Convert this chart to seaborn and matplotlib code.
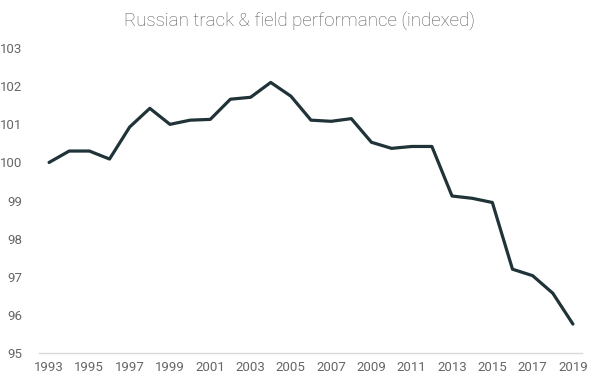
import matplotlib
matplotlib.use("Agg")
import matplotlib.pyplot as plt
import seaborn as sns
import pandas as pd

# Values
years = list(range(1993, 2020))
index_values = [
    100.00, 100.30, 100.30, 100.09, 100.93, 101.42, 101.00, 101.11, 101.13,
    101.66, 101.71, 102.10, 101.74, 101.11, 101.08, 101.15, 100.53, 100.37,
    100.42, 100.42, 99.12, 99.06, 98.95, 97.20, 97.03, 96.57, 95.76,
]
x_ticks = list(range(1993, 2020, 2))
y_ticks = list(range(95, 104))

df = pd.DataFrame({"year": years, "index": index_values})

sns.set_theme(style="white")
plt.rcParams["font.family"] = ["Roboto", "DejaVu Sans"]

fig = plt.figure(figsize=(6, 3.85), dpi=100)
ax = fig.add_axes([0.065, 0.083, 0.905, 0.792])

sns.lineplot(data=df, x="year", y="index", color="#1f3338", linewidth=2.3, ax=ax)

ax.set_xlim(1992.5, 2019.45)
ax.set_ylim(95, 103)
ax.set_xticks(x_ticks)
ax.set_yticks(y_ticks)
ax.set_xlabel("")
ax.set_ylabel("")
ax.tick_params(axis="both", length=0, labelsize=9.5, labelcolor="#666666")
ax.tick_params(axis="y", pad=12)
ax.tick_params(axis="x", pad=6)

for side in ["top", "right", "left"]:
    ax.spines[side].set_visible(False)
ax.spines["bottom"].set_color("#d9d9d9")
ax.spines["bottom"].set_linewidth(1)

fig.text(0.5, 0.945, "Russian track & field performance (indexed)",
         ha="center", va="center", fontsize=13.5, color="#595959",
         fontweight="light")

fig.savefig("out.png", dpi=100)
